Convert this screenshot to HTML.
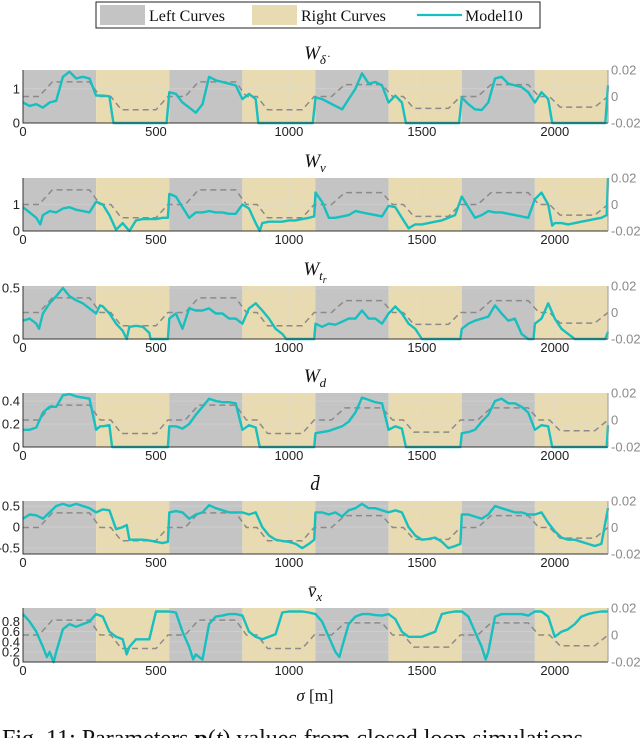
<!DOCTYPE html>
<html><head><meta charset="utf-8"><style>
html,body{margin:0;padding:0;background:#fff;}
svg{display:block;}
text{font-family:"Liberation Sans",sans-serif;}
.serif{font-family:"Liberation Serif","DejaVu Serif",serif;}
</style></head><body>
<svg id="chart" width="640" height="738" viewBox="0 0 640 738" xmlns="http://www.w3.org/2000/svg">
<g>
<rect x="96" y="2" width="444" height="26" fill="#fff" stroke="#222" stroke-width="1"/>
<rect x="100" y="5" width="45" height="20" fill="#c4c4c4"/>
<text class="serif" x="149" y="21" font-size="16" fill="#111">Left Curves</text>
<rect x="252" y="5" width="45" height="20" fill="#e9dbb1"/>
<text class="serif" x="301" y="21" font-size="16" fill="#111">Right Curves</text>
<line x1="417" y1="15" x2="462" y2="15" stroke="#17bfbf" stroke-width="2.2"/>
<text class="serif" x="465" y="21" font-size="16" fill="#111">Model10</text>
</g>
<text class="serif" x="315" y="701" font-size="17" text-anchor="middle" fill="#111"><tspan font-style="italic">σ</tspan> [m]</text>
<text class="serif" x="2" y="746" font-size="24" fill="#111">Fig. 11: Parameters <tspan font-weight="bold">p</tspan>(<tspan font-style="italic">t</tspan>) values from closed loop simulations</text>
</svg>
<script>
// x-axis
const xTicks = [0, 500, 1000, 1500, 2000];
const xMax = 2200;
const bandEdges = [0, 275, 550, 825, 1100, 1375, 1650, 1925, 2200];
// dashed reference (right axis, curvature)
const refSigma = [0, 60, 110, 250, 290, 330, 370, 500, 545, 610, 660, 800, 840, 880, 920, 1050, 1095, 1160, 1210, 1350, 1390, 1430, 1470, 1600, 1645, 1710, 1760, 1900, 1940, 1980, 2020, 2150, 2200];
const refValue = [0, 0, 0.011, 0.011, 0, 0, -0.010, -0.010, 0, 0, 0.011, 0.011, 0, 0, -0.010, -0.010, 0, 0, 0.009, 0.009, 0, 0, -0.009, -0.009, 0, 0, 0.009, 0.009, 0, 0, -0.008, -0.008, 0];
const rightTicks = [-0.02, 0, 0.02];

// panel 1: W_delta_dot
const p1Sigma = [0,25,50,75,100,125,150,175,200,225,250,275,300,325,340,350,400,450,500,540,550,575,600,625,650,675,700,725,750,775,800,825,850,875,885,900,950,1000,1050,1090,1100,1125,1150,1175,1200,1225,1250,1275,1300,1325,1350,1375,1400,1425,1440,1450,1500,1550,1600,1640,1650,1675,1700,1725,1750,1775,1800,1825,1850,1875,1900,1925,1950,1975,1990,2000,2100,2190,2200];
const p1Value = [0.6,0.5,0.55,0.45,0.6,0.65,1.35,1.5,1.3,1.35,1.3,0.8,0.8,0.78,0,0,0,0,0,0,0.9,0.85,0.6,0.45,0.3,0.55,1.35,1.25,1.2,1.15,1.1,0.7,0.85,0.7,0,0,0,0,0,0,0.75,0.7,0.6,0.5,0.4,0.7,1.0,1.45,1.15,1.2,1.1,0.6,0.8,0.6,0,0,0,0,0,0,0.75,0.55,0.4,0.38,0.6,1.3,1.35,1.15,1.1,1.05,0.9,0.6,0.9,0.7,0,0,0,0,1.1];
// panel 2: W_v
const p2Sigma = [0,25,50,65,75,100,125,150,175,200,225,250,275,300,325,350,375,400,425,450,475,500,525,545,550,575,600,625,650,675,700,725,750,775,800,825,850,875,890,900,925,950,975,1000,1025,1050,1075,1095,1100,1125,1150,1175,1200,1225,1250,1275,1300,1325,1350,1375,1400,1425,1450,1475,1500,1525,1550,1575,1600,1625,1650,1675,1700,1725,1750,1775,1800,1825,1850,1875,1900,1925,1950,1975,1990,2000,2025,2050,2075,2100,2125,2150,2175,2195,2200];
const p2Value = [0.9,0.7,0.5,0.25,0.6,0.75,0.7,0.85,0.9,0.8,0.75,0.7,1.1,1.0,0.6,0.05,0.3,0.0,0.4,0.45,0.45,0.45,0.5,0.5,1.4,1.3,0.9,0.5,0.7,0.7,0.75,0.7,0.7,0.65,0.65,1.0,0.85,0.3,0,0.3,0.35,0.35,0.35,0.4,0.4,0.45,0.5,0.55,1.45,1.1,0.5,0.5,0.55,0.6,0.75,0.7,0.65,0.6,0.55,0.95,0.9,0.5,0.1,0.25,0.25,0.3,0.35,0.4,0.5,0.6,1.3,0.9,0.5,0.6,0.75,0.7,0.7,0.65,0.6,0.55,0.5,1.2,1.45,1.0,0.2,0.3,0.3,0.25,0.3,0.35,0.4,0.45,0.5,0.6,2.0];
// panel 3: W_tr
const p3Sigma = [0,25,50,60,75,100,125,150,175,200,225,250,275,290,300,325,350,375,390,400,425,450,475,480,500,545,550,575,600,625,650,675,700,725,750,775,800,825,850,875,900,925,950,975,990,1050,1095,1100,1125,1150,1175,1200,1225,1250,1275,1300,1325,1350,1375,1400,1425,1450,1475,1500,1600,1645,1650,1675,1700,1725,1750,1775,1800,1825,1850,1875,1900,1920,1925,1950,1975,2000,2025,2050,2075,2150,2190,2200];
const p3Value = [0.18,0.2,0.15,0.1,0.25,0.35,0.42,0.5,0.42,0.38,0.35,0.3,0.25,0.33,0.32,0.25,0.15,0.08,0,0.12,0.13,0.12,0.06,0,0,0,0.2,0.25,0.1,0.3,0.28,0.28,0.3,0.25,0.25,0.2,0.2,0.15,0.3,0.35,0.28,0.2,0.1,0.05,0,0,0,0.15,0.12,0.15,0.14,0.17,0.2,0.2,0.28,0.2,0.2,0.15,0.25,0.32,0.25,0.15,0.1,0,0,0,0.1,0.15,0.18,0.2,0.22,0.33,0.25,0.18,0.2,0.05,0,0,0.15,0.2,0.35,0.2,0.1,0.05,0,0,0,0.07];
// panel 4: W_d
const p4Sigma = [0,25,50,75,100,125,150,175,200,225,250,275,290,300,325,335,400,500,545,550,575,600,625,650,675,700,725,750,775,800,825,850,875,890,1000,1095,1100,1125,1150,1175,1200,1225,1250,1275,1300,1325,1350,1375,1400,1425,1440,1550,1645,1650,1675,1700,1725,1750,1775,1800,1825,1850,1875,1900,1925,1950,1975,1990,2100,2195,2200];
const p4Value = [0.15,0.15,0.17,0.3,0.35,0.35,0.45,0.46,0.44,0.43,0.42,0.15,0.18,0.18,0.19,0,0,0,0,0.18,0.18,0.16,0.2,0.28,0.35,0.42,0.4,0.39,0.39,0.38,0.15,0.19,0.17,0,0,0,0.12,0.13,0.14,0.16,0.18,0.22,0.3,0.43,0.41,0.39,0.38,0.15,0.18,0.16,0,0,0,0.12,0.13,0.15,0.22,0.28,0.4,0.42,0.38,0.38,0.35,0.3,0.15,0.19,0.18,0,0,0,0.19];
// panel 5: d_bar
const p5Sigma = [0,25,50,75,100,125,150,175,200,225,250,275,300,325,350,375,390,400,425,450,475,500,525,545,550,575,600,625,650,675,700,725,750,775,800,825,850,875,900,925,950,975,1000,1025,1050,1075,1095,1100,1125,1150,1175,1200,1225,1250,1275,1300,1325,1350,1375,1400,1425,1450,1475,1500,1525,1550,1575,1600,1625,1645,1650,1675,1700,1725,1750,1775,1800,1825,1850,1875,1900,1925,1950,1975,2000,2025,2050,2075,2100,2125,2150,2175,2200];
const p5Value = [0.2,0.3,0.28,0.2,0.35,0.5,0.55,0.5,0.55,0.5,0.45,0.35,0.42,0.4,-0.05,0.0,0.05,-0.3,-0.3,-0.3,-0.32,-0.35,-0.38,-0.35,0.35,0.38,0.35,0.2,0.3,0.35,0.52,0.45,0.4,0.35,0.35,0.35,0.3,0.35,0.0,-0.2,-0.3,-0.33,-0.35,-0.4,-0.5,-0.4,-0.3,0.35,0.35,0.3,0.35,0.25,0.4,0.45,0.55,0.45,0.45,0.4,0.35,0.4,0.35,0.0,-0.2,-0.3,-0.28,-0.25,-0.35,-0.5,-0.45,-0.4,0.3,0.3,0.25,0.2,0.3,0.5,0.45,0.4,0.35,0.35,0.3,0.3,0.35,0.1,-0.1,-0.25,-0.3,-0.3,-0.35,-0.4,-0.45,-0.4,0.45];
// panel 6: vx_bar
const p6Sigma = [0,25,50,75,90,100,115,125,150,175,200,225,250,275,300,325,350,375,390,400,425,450,475,500,525,550,575,600,625,640,650,675,700,725,750,775,800,825,850,875,900,925,950,975,1000,1025,1050,1075,1100,1125,1150,1175,1190,1200,1225,1250,1275,1300,1325,1350,1375,1400,1425,1450,1475,1500,1525,1550,1575,1600,1625,1650,1675,1700,1725,1740,1750,1775,1800,1825,1850,1875,1900,1925,1950,1975,2000,2025,2050,2075,2100,2125,2150,2175,2200];
const p6Value = [0.95,0.8,0.6,0.3,0.1,0.2,0.0,0.2,0.65,0.75,0.7,0.75,0.8,0.95,0.9,0.6,0.5,0.45,0.15,0.3,0.45,0.45,0.45,1.0,1.0,1.0,0.98,0.6,0.3,0.05,0.15,0.05,0.75,0.9,0.92,0.95,0.95,0.92,0.6,0.5,0.45,0.5,0.55,0.98,1.0,1.0,1.0,0.98,0.95,0.8,0.5,0.2,0.1,0.3,0.75,0.9,0.95,0.95,0.93,0.92,0.95,0.85,0.6,0.5,0.5,0.5,0.55,0.6,0.95,0.98,1.0,1.0,0.9,0.6,0.3,0.05,0.2,0.9,0.95,0.95,0.95,0.95,0.92,1.0,1.0,0.9,0.5,0.6,0.65,0.75,0.9,0.95,0.98,1.0,1.0];

const panels = [
  {name:'w-delta-dot', top:70, h:53, yMin:0, yMax:1.55, ticks:[0,1], tickLabels:['0','1'], sig:p1Sigma, val:p1Value, title:'d'},
  {name:'w-v', top:178, h:53, yMin:0, yMax:2.0, ticks:[0,1], tickLabels:['0','1'], sig:p2Sigma, val:p2Value, title:'v'},
  {name:'w-tr', top:286, h:53, yMin:0, yMax:0.52, ticks:[0,0.5], tickLabels:['0','0.5'], sig:p3Sigma, val:p3Value, title:'tr'},
  {name:'w-d', top:393, h:54, yMin:0, yMax:0.47, ticks:[0,0.2,0.4], tickLabels:['0','0.2','0.4'], sig:p4Sigma, val:p4Value, title:'wd'},
  {name:'d-bar', top:501, h:53, yMin:-0.64, yMax:0.62, ticks:[-0.5,0,0.5], tickLabels:['-0.5','0','0.5'], sig:p5Sigma, val:p5Value, title:'dbar'},
  {name:'vx-bar', top:608, h:54, yMin:0, yMax:1.07, ticks:[0,0.2,0.4,0.6,0.8], tickLabels:['0','0.2','0.4','0.6','0.8'], sig:p6Sigma, val:p6Value, title:'vx'}
];
const rightTickLabels = ['-0.02','0','0.02'];

const NS = 'http://www.w3.org/2000/svg';
const svg = document.getElementById('chart');
const X0 = 23, X1 = 608;
function xs(s){ return X0 + (s / xMax) * (X1 - X0); }
function mk(tag, attrs, parent){
  const e = document.createElementNS(NS, tag);
  for (const k in attrs) e.setAttribute(k, attrs[k]);
  parent.appendChild(e);
  return e;
}
function titleText(p, g){
  const t = mk('text', {x:315, y:p.top-11, 'font-size':19, 'text-anchor':'middle', fill:'#111', class:'serif'}, g);
  
  
  if (p.title === 'dbar'){ t.innerHTML = '<tspan font-style="italic">d̄</tspan>'; }
  else if (p.title === 'vx'){ t.innerHTML = '<tspan font-style="italic">v̄</tspan><tspan font-style="italic" font-size="13" dy="4">x</tspan>'; }
  else {
    let sub = p.title === 'd' ? 'δ̇' : p.title === 'v' ? 'v' : p.title === 'tr' ? 't' : 'd';
    let html = '<tspan font-style="italic">W</tspan><tspan font-style="italic" font-size="13" dy="5">' + sub + '</tspan>';
    if (p.title === 'tr') html += '<tspan font-style="italic" font-size="10" dy="3">r</tspan>';
    t.innerHTML = html;
  }
}
panels.forEach(function(p){
  const g = mk('g', {}, svg);
  
  
  const bot = p.top + p.h;
  const ys = v => bot - (v - p.yMin) / (p.yMax - p.yMin) * p.h;
  const yr = v => bot - (v + 0.02) / 0.04 * p.h;
  for (let i = 0; i < bandEdges.length - 1; i++){
    const r = mk('rect', {x:xs(bandEdges[i]), y:p.top, width:xs(bandEdges[i+1]) - xs(bandEdges[i]), height:p.h, fill: i % 2 === 0 ? '#c4c4c4' : '#e9dbb1'}, g);
    
    
  }
  xTicks.forEach(function(t){
    const l = mk('line', {x1:xs(t), x2:xs(t), y1:p.top, y2:bot, stroke:'#d8d8d8', 'stroke-width':0.6, opacity:0.8}, g);
    
    
    const tx = mk('text', {x:xs(t), y:bot+13, 'font-size':13, 'text-anchor':'middle', fill:'#222'}, g);
    tx.textContent = String(t);
    
    
  });
  p.ticks.forEach(function(t, i){
    const l = mk('line', {x1:X0, x2:X1, y1:ys(t), y2:ys(t), stroke:'#d8d8d8', 'stroke-width':0.6, opacity:0.8}, g);
    
    
    const tx = mk('text', {x:X0-3, y:ys(t)+4.5, 'font-size':13, 'text-anchor':'end', fill:'#222'}, g);
    tx.textContent = p.tickLabels[i];
    
    
  });
  rightTicks.forEach(function(t, i){
    const tx = mk('text', {x:X1+3, y:yr(t)+4.5, 'font-size':13, fill:'#8a8a8a'}, g);
    tx.textContent = rightTickLabels[i];
    
    
  });
  let d1 = '';
  refSigma.forEach(function(s, i){ d1 += (i ? 'L' : 'M') + xs(s).toFixed(1) + ',' + yr(refValue[i]).toFixed(1); });
  const ref = mk('path', {d:d1, fill:'none', stroke:'#8a8a8a', 'stroke-width':1.5, 'stroke-dasharray':'6,4'}, g);
  
  
  let d2 = '';
  p.sig.forEach(function(s, i){ d2 += (i ? 'L' : 'M') + xs(s).toFixed(1) + ',' + ys(p.val[i]).toFixed(1); });
  const ln = mk('path', {d:d2, fill:'none', stroke:'#17bfbf', 'stroke-width':2.4, 'stroke-linejoin':'round'}, g);
  
  
  const ax = mk('path', {d:'M' + X0 + ',' + p.top + 'V' + bot + 'H' + X1, fill:'none', stroke:'#333', 'stroke-width':1}, g);
  
  
  const rax = mk('line', {x1:X1, x2:X1, y1:p.top, y2:bot, stroke:'#999', 'stroke-width':1}, g);
  
  
  titleText(p, g);
});
</script>
</body></html>
